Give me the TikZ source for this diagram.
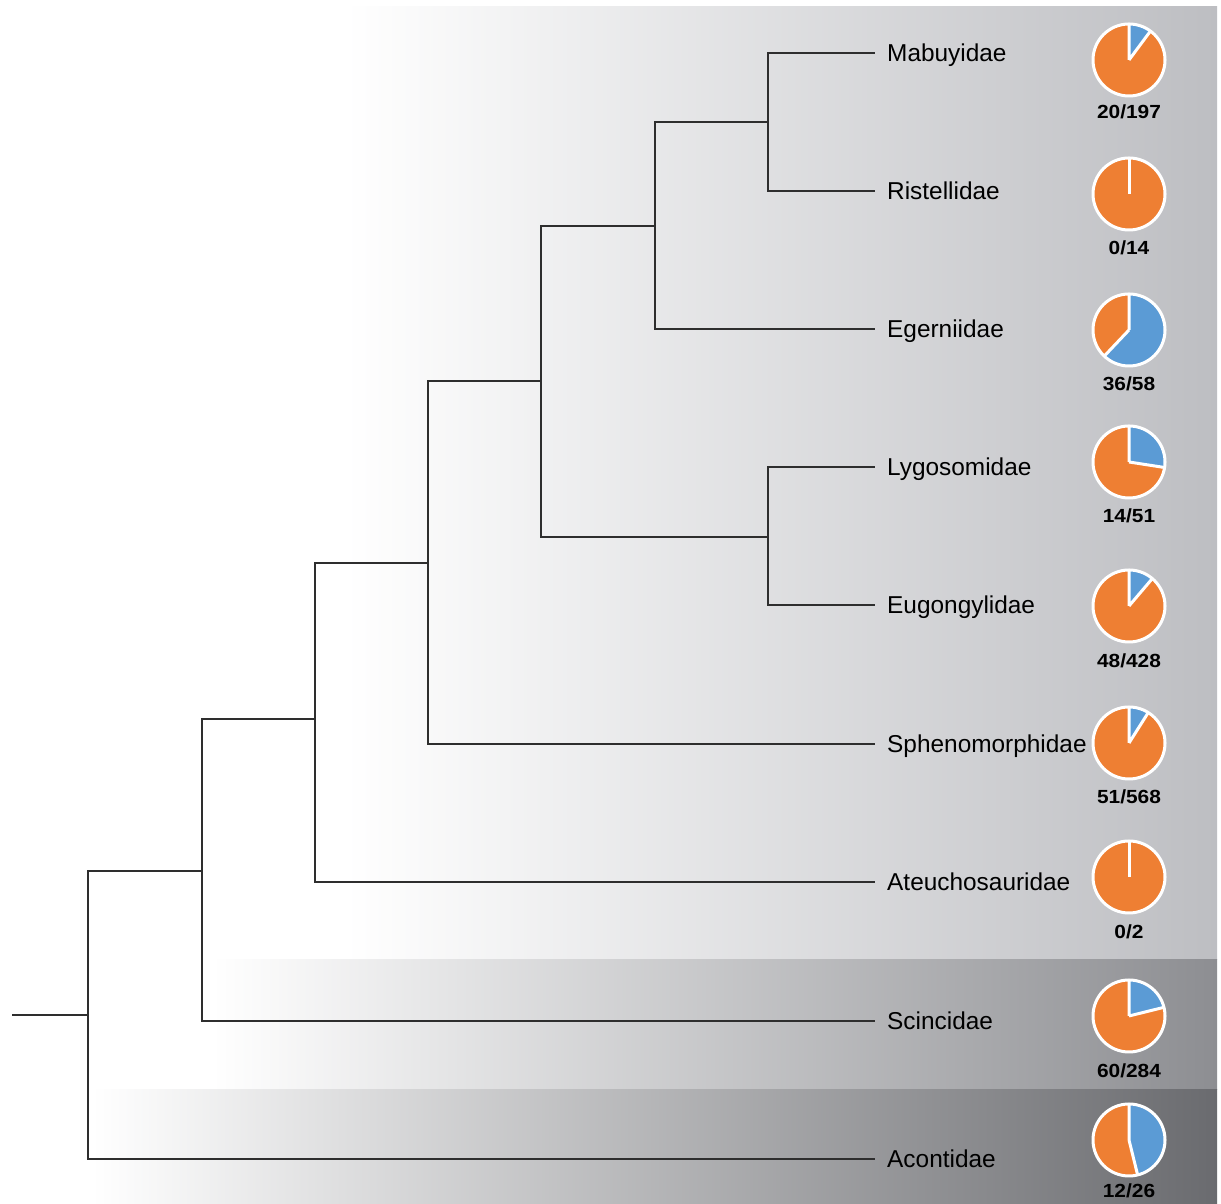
\documentclass[tikz,border=0pt]{standalone}
\usepackage{fontspec}
\setmainfont{Liberation Sans}
\newfontfamily\cntfont[FakeStretch=1.1]{Liberation Sans}
\definecolor{pieor}{HTML}{EE7F33}
\definecolor{piebl}{HTML}{5B9BD5}
\definecolor{bandA}{HTML}{BDBEC2}
\definecolor{bandB}{HTML}{8D8E92}
\definecolor{bandC}{HTML}{6A6B6F}
\definecolor{branch}{HTML}{2E2E2E}
\newcommand\mypie[2]{%
  \fill[pieor] (#1) circle[radius=36pt];
  \fill[piebl] (#1) -- ++(90:36pt) arc[start angle=90,end angle=#2,radius=36pt] -- cycle;
  \draw[white,line width=3pt] (#1) circle[radius=36pt];
  \draw[white,line width=3pt] (#1) -- ++(90:36pt) (#1) -- ++(#2:36pt);
}
\begin{document}
\begin{tikzpicture}[x=1pt,y=1pt,
  branchline/.style={draw=branch,line width=2pt},
  taxon/.style={anchor=base west,inner sep=0pt,font=\fontsize{24.4}{28}\selectfont,text=black},
  count/.style={anchor=base,inner sep=0pt,font=\cntfont\bfseries\fontsize{19}{22}\selectfont,text=black}]

\useasboundingbox (0,0) rectangle (1221,1204);
\fill[white] (0,0) rectangle (1221,1204);
\shade[left color=white,right color=bandA] (345,244) rectangle (1217,1197);
\shade[left color=white,right color=bandB] (212,114) rectangle (1217,244);
\shade[left color=white,right color=bandC] (92,0) rectangle (1217,114);

% internal nodes
\coordinate (R) at (12,189);
\coordinate (A) at (88,189);
\coordinate (B) at (202,333);
\coordinate (C) at (315,485);
\coordinate (D) at (428,641);
\coordinate (E) at (541,823);
\coordinate (F) at (655,978);
\coordinate (G) at (768,1082);
\coordinate (H) at (768,667);
% tips
\coordinate (mabT) at (875,1151);
\coordinate (risT) at (875,1013);
\coordinate (egeT) at (875,875);
\coordinate (lygT) at (875,737);
\coordinate (eugT) at (875,599);
\coordinate (sphT) at (875,460);
\coordinate (ateT) at (875,322);
\coordinate (sciT) at (875,183);
\coordinate (acoT) at (875,45);

% branches
\draw[branchline] (R) -- (A);
\draw[branchline] (A) |- (B);
\draw[branchline] (A) |- (acoT);
\draw[branchline] (B) |- (C);
\draw[branchline] (B) |- (sciT);
\draw[branchline] (C) |- (D);
\draw[branchline] (C) |- (ateT);
\draw[branchline] (D) |- (E);
\draw[branchline] (D) |- (sphT);
\draw[branchline] (E) |- (F);
\draw[branchline] (E) |- (H);
\draw[branchline] (F) |- (G);
\draw[branchline] (F) |- (egeT);
\draw[branchline] (G) |- (mabT);
\draw[branchline] (G) |- (risT);
\draw[branchline] (H) |- (lygT);
\draw[branchline] (H) |- (eugT);

% taxon labels
\node[taxon] (mab) at (887,1142) {Mabuyidae};
\node[taxon] (ris) at (887,1004) {Ristellidae};
\node[taxon] (ege) at (887,866) {Egerniidae};
\node[taxon] (lyg) at (887,728) {Lygosomidae};
\node[taxon] (eug) at (887,590) {Eugongylidae};
\node[taxon] (sph) at (887,451) {Sphenomorphidae};
\node[taxon] (ate) at (887,313) {Ateuchosauridae};
\node[taxon] (sci) at (887,174) {Scincidae};
\node[taxon] (aco) at (887,36) {Acontidae};

% pies
\coordinate (pmab) at (1129,1144);
\coordinate (pris) at (1129,1010);
\coordinate (pege) at (1129,874);
\coordinate (plyg) at (1129,742);
\coordinate (peug) at (1129,598);
\coordinate (psph) at (1129,461);
\coordinate (pate) at (1129,327);
\coordinate (psci) at (1129,188);
\coordinate (paco) at (1129,64);
\mypie{pmab}{53.45}
\mypie{pris}{90}
\mypie{pege}{-133.45}
\mypie{plyg}{-8.82}
\mypie{peug}{49.63}
\mypie{psph}{57.68}
\mypie{pate}{90}
\mypie{psci}{13.94}
\mypie{paco}{-76.15}

% counts
\node[count] (cmab) at (1129,1085) {20/197};
\node[count] (cris) at (1129,949) {0/14};
\node[count] (cege) at (1129,813) {36/58};
\node[count] (clyg) at (1129,681) {14/51};
\node[count] (ceug) at (1129,536) {48/428};
\node[count] (csph) at (1129,400) {51/568};
\node[count] (cate) at (1129,265) {0/2};
\node[count] (csci) at (1129,126) {60/284};
\node[count] (caco) at (1129,6) {12/26};
\end{tikzpicture}
\end{document}
